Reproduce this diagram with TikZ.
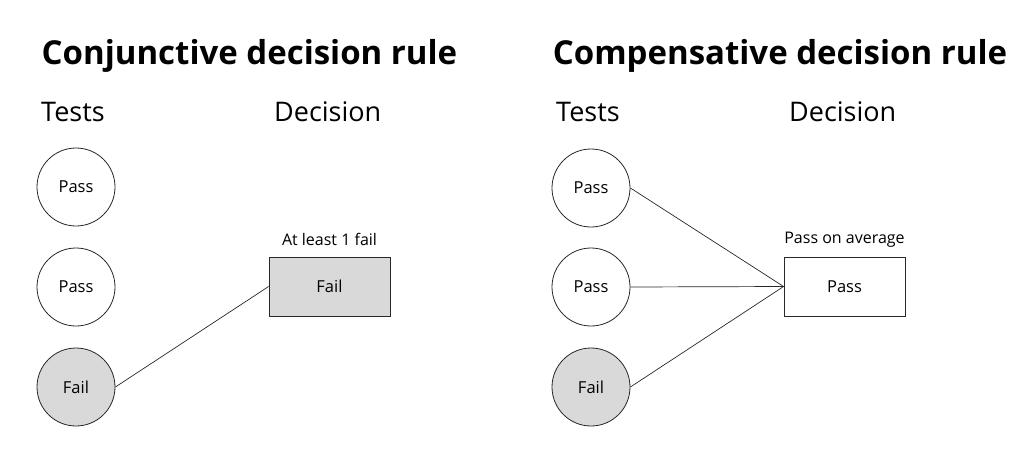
\documentclass[tikz,border=0pt]{standalone}
\usepackage{fontspec}
\setmainfont{Open Sans}
\definecolor{failgray}{RGB}{217,217,217}
\definecolor{linegray}{RGB}{40,40,40}
\begin{document}
\begin{tikzpicture}[x=1pt,y=-1pt,
  title/.style={font=\fontsize{33}{40}\selectfont\bfseries, anchor=center, inner sep=0pt},
  head/.style={font=\fontsize{27}{32}\selectfont, anchor=center, inner sep=0pt},
  testc/.style={circle, draw=linegray, line width=0.8pt, minimum size=78pt, inner sep=0pt, font=\fontsize{16.5}{20}\selectfont},
  failc/.style={testc, fill=failgray},
  decbox/.style={rectangle, draw=linegray, line width=0.8pt, minimum width=121pt, minimum height=59pt, inner sep=0pt, font=\fontsize{16.5}{20}\selectfont},
  lab/.style={font=\fontsize{16}{19}\selectfont, inner sep=0pt},
  conn/.style={draw=linegray, line width=0.7pt}]
\useasboundingbox (0,0) rectangle (1030,474);
% Left panel
\node[title] (t1) at (249.5,56) {Conjunctive decision rule};
\node[head, anchor=west] (h1a) at (41,112) {Tests};
\node[head, anchor=west] (h1b) at (274,112) {Decision};
\node[testc] (l1) at (76,187) {Pass};
\node[testc] (l2) at (76,287) {Pass};
\node[failc] (l3) at (76,387) {Fail};
\node[decbox, fill=failgray] (lb) at (329.5,286.5) {Fail};
\node[lab] (ll) at (329.5,239) {At least 1 fail};
\draw[conn] (l3.east) -- (lb.west);
% Right panel
\node[title] (t2) at (780,56) {Compensative decision rule};
\node[head, anchor=west] (h2a) at (556,112) {Tests};
\node[head, anchor=west] (h2b) at (789,112) {Decision};
\node[testc] (r1) at (591,188) {Pass};
\node[testc] (r2) at (591,287) {Pass};
\node[failc] (r3) at (591,387) {Fail};
\node[decbox] (rb) at (844.5,286.5) {Pass};
\node[lab] (rl) at (844.5,240) {Pass on average};
\draw[conn] (r1.east) -- (rb.west);
\draw[conn] (r2.east) -- (rb.west);
\draw[conn] (r3.east) -- (rb.west);
\end{tikzpicture}
\end{document}
